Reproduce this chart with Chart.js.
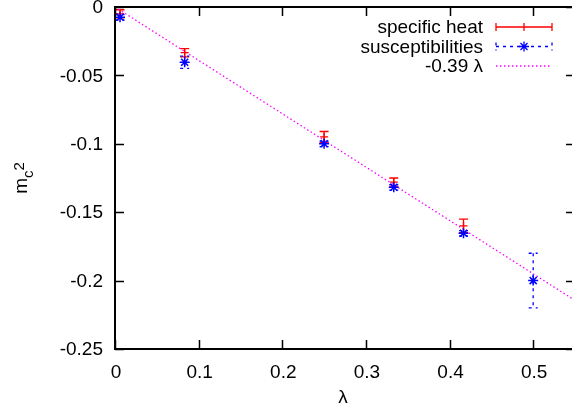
<!DOCTYPE html>
<html>
<head>
<meta charset="utf-8">
<script src="https://cdn.jsdelivr.net/npm/chart.js@4/dist/chart.umd.min.js"></script>
<style>
html,body{margin:0;padding:0;background:#fff;overflow:hidden;width:572px;height:411px;}
canvas{display:block;}
</style>
</head>
<body>
<canvas id="c" width="576" height="411"></canvas>
<script>
// ---- data ----
const heatLambda = [0.006, 0.0833, 0.25, 0.3333, 0.4167];
const heatM2     = [-0.005, -0.0334, -0.095, -0.128, -0.160];
const heatErr    = [0.003, 0.003, 0.004, 0.003, 0.005];

const suscLambda = [0.006, 0.0833, 0.25, 0.3333, 0.4167, 0.5];
const suscM2     = [-0.0075, -0.0404, -0.100, -0.1318, -0.1654, -0.200];
const suscErr    = [0.002, 0.0045, 0.002, 0.002, 0.002, 0.020];

const fitLambda  = [0, 0.55];
const fitM2      = [0, -0.2145];

const xTicks = [0, 0.1, 0.2, 0.3, 0.4, 0.5];
const xTickLabels = ['0', '0.1', '0.2', '0.3', '0.4', '0.5'];
const yTicks = [0, -0.05, -0.1, -0.15, -0.2, -0.25];
const yTickLabels = ['0', '-0.05', '-0.1', '-0.15', '-0.2', '-0.25'];

const legendLabels = ['specific heat', 'susceptibilities', '-0.39 \u03bb'];

const FONT = '"Liberation Sans", Arial, sans-serif';
const FS = 19;
const RED = '#ff0000', BLUE = '#0000ff', MAG = '#ff00ff';

const toPts = (xs, ys) => xs.map((x, i) => ({x: x, y: ys[i]}));

const errPlugin = {
  id: 'errbars',
  beforeDatasetsDraw(chart) {
    const ctx = chart.ctx, xs = chart.scales.x, ys = chart.scales.y;
    const sets = [
      {xv: heatLambda, yv: heatM2, ev: heatErr, c: RED, dash: []},
      {xv: suscLambda, yv: suscM2, ev: suscErr, c: BLUE, dash: [3, 4]}
    ];
    ctx.save();
    sets.forEach(s => {
      ctx.strokeStyle = s.c; ctx.lineWidth = 1.3; ctx.setLineDash(s.dash);
      s.xv.forEach((x, i) => {
        const px = xs.getPixelForValue(x);
        const p1 = ys.getPixelForValue(s.yv[i] + s.ev[i]);
        const p2 = ys.getPixelForValue(s.yv[i] - s.ev[i]);
        ctx.beginPath();
        ctx.moveTo(px, p1); ctx.lineTo(px, p2);
        ctx.moveTo(px - 4.5, p1); ctx.lineTo(px + 4.5, p1);
        ctx.moveTo(px - 4.5, p2); ctx.lineTo(px + 4.5, p2);
        ctx.stroke();
      });
    });
    ctx.restore();
  }
};

const framePlugin = {
  id: 'frame',
  afterDraw(chart) {
    const ctx = chart.ctx, a = chart.chartArea, xs = chart.scales.x, ys = chart.scales.y;
    ctx.save();
    ctx.setLineDash([]);
    ctx.strokeStyle = '#000';
    ctx.lineWidth = 1.5;
    ctx.beginPath();
    xTicks.forEach(v => {
      const px = Math.round(xs.getPixelForValue(v)) + 0.5;
      ctx.moveTo(px, a.bottom); ctx.lineTo(px, a.bottom - 9);
      ctx.moveTo(px, a.top); ctx.lineTo(px, a.top + 9);
    });
    yTicks.forEach(v => {
      const py = Math.round(ys.getPixelForValue(v)) + 0.5;
      ctx.moveTo(a.left, py); ctx.lineTo(a.left + 9, py);
      ctx.moveTo(a.right, py); ctx.lineTo(a.right - 9, py);
    });
    ctx.stroke();
    ctx.lineWidth = 2;
    ctx.strokeRect(a.left, a.top, a.right - a.left, a.bottom - a.top);

    // tick labels
    ctx.fillStyle = '#000';
    ctx.font = FS + 'px ' + FONT;
    ctx.textAlign = 'center';
    ctx.textBaseline = 'alphabetic';
    xTicks.forEach((v, i) => ctx.fillText(xTickLabels[i], xs.getPixelForValue(v) + 1, a.bottom + 29));
    ctx.textAlign = 'right';
    ctx.textBaseline = 'middle';
    yTicks.forEach((v, i) => ctx.fillText(yTickLabels[i], a.left - 12, ys.getPixelForValue(v) + 1));

    // axis titles
    ctx.textAlign = 'center';
    ctx.textBaseline = 'middle';
    ctx.fillText('\u03bb', (a.left + a.right) / 2 - 2, 398);

    // y title m_c^2 rotated (m, subscript c, then superscript 2)
    ctx.save();
    ctx.translate(27, (a.top + a.bottom) / 2);
    ctx.rotate(-Math.PI / 2);
    ctx.textAlign = 'left';
    ctx.textBaseline = 'alphabetic';
    ctx.font = FS + 'px ' + FONT;
    const mW = ctx.measureText('m').width;
    ctx.font = '15px ' + FONT;
    const cW = ctx.measureText('c').width;
    const tW = ctx.measureText('2').width;
    const x0 = -(mW + cW + tW) / 2;
    ctx.font = FS + 'px ' + FONT;
    ctx.fillText('m', x0, 0);
    ctx.font = '15px ' + FONT;
    ctx.fillText('c', x0 + mW, 6);
    ctx.fillText('2', x0 + mW + cW, -3);
    ctx.restore();

    // legend
    ctx.font = FS + 'px ' + FONT;
    ctx.textAlign = 'right';
    ctx.textBaseline = 'middle';
    const rows = [27, 46.5, 66];
    const sx1 = 496, sx2 = 552, sm = (sx1 + sx2) / 2;
    legendLabels.forEach((t, i) => ctx.fillText(t, 483, rows[i] + 1));
    ctx.lineWidth = 1.3;
    ctx.strokeStyle = RED; ctx.setLineDash([]);
    ctx.beginPath();
    ctx.moveTo(sx1, rows[0]); ctx.lineTo(sx2, rows[0]);
    ctx.moveTo(sx1, rows[0] - 4); ctx.lineTo(sx1, rows[0] + 4);
    ctx.moveTo(sx2, rows[0] - 4); ctx.lineTo(sx2, rows[0] + 4);
    ctx.moveTo(sm, rows[0] - 4); ctx.lineTo(sm, rows[0] + 4);
    ctx.stroke();
    ctx.strokeStyle = BLUE; ctx.setLineDash([3, 4]);
    ctx.beginPath();
    ctx.moveTo(sx1, rows[1]); ctx.lineTo(sx2, rows[1]);
    ctx.moveTo(sx1, rows[1] - 4); ctx.lineTo(sx1, rows[1] + 4);
    ctx.moveTo(sx2, rows[1] - 4); ctx.lineTo(sx2, rows[1] + 4);
    ctx.stroke();
    ctx.setLineDash([]);
    ctx.beginPath();
    const r = 5, d = r * 0.7071;
    ctx.moveTo(sm - r, rows[1]); ctx.lineTo(sm + r, rows[1]);
    ctx.moveTo(sm, rows[1] - r); ctx.lineTo(sm, rows[1] + r);
    ctx.moveTo(sm - d, rows[1] - d); ctx.lineTo(sm + d, rows[1] + d);
    ctx.moveTo(sm - d, rows[1] + d); ctx.lineTo(sm + d, rows[1] - d);
    ctx.stroke();
    ctx.strokeStyle = MAG; ctx.setLineDash([1.5, 2.5]);
    ctx.beginPath();
    ctx.moveTo(sx1, rows[2]); ctx.lineTo(sx2, rows[2]);
    ctx.stroke();
    ctx.restore();
  }
};

new Chart(document.getElementById('c'), {
  type: 'scatter',
  data: {
    datasets: [
      {
        label: legendLabels[2],
        data: toPts(fitLambda, fitM2),
        showLine: true,
        borderColor: MAG,
        borderWidth: 1.3,
        borderDash: [1.5, 2.5],
        pointRadius: 0,
        order: 3
      },
      {
        label: legendLabels[0],
        data: toPts(heatLambda, heatM2),
        pointStyle: 'cross',
        pointRadius: 4,
        borderColor: RED,
        backgroundColor: RED,
        borderWidth: 1.3,
        order: 2
      },
      {
        label: legendLabels[1],
        data: toPts(suscLambda, suscM2),
        pointStyle: 'star',
        pointRadius: 5,
        borderColor: BLUE,
        backgroundColor: BLUE,
        borderWidth: 1.5,
        order: 1
      }
    ]
  },
  options: {
    responsive: false,
    animation: false,
    events: [],
    layout: {autoPadding: false, padding: {top: 7, right: 1, left: 0, bottom: 0}},
    plugins: {legend: {display: false}, tooltip: {enabled: false}},
    scales: {
      x: {
        type: 'linear',
        min: 0, max: 0.55,
        grid: {display: false, drawTicks: false},
        border: {display: false},
        afterBuildTicks: s => { s.ticks = xTicks.map(v => ({value: v})); },
        afterFit: s => { s.height = 62; },
        ticks: {display: false}
      },
      y: {
        type: 'linear',
        min: -0.25, max: 0,
        grid: {display: false, drawTicks: false},
        border: {display: false},
        afterBuildTicks: s => { s.ticks = yTicks.map(v => ({value: v})); },
        afterFit: s => { s.width = 115; },
        ticks: {display: false}
      }
    }
  },
  plugins: [errPlugin, framePlugin]
});
</script>
</body>
</html>
